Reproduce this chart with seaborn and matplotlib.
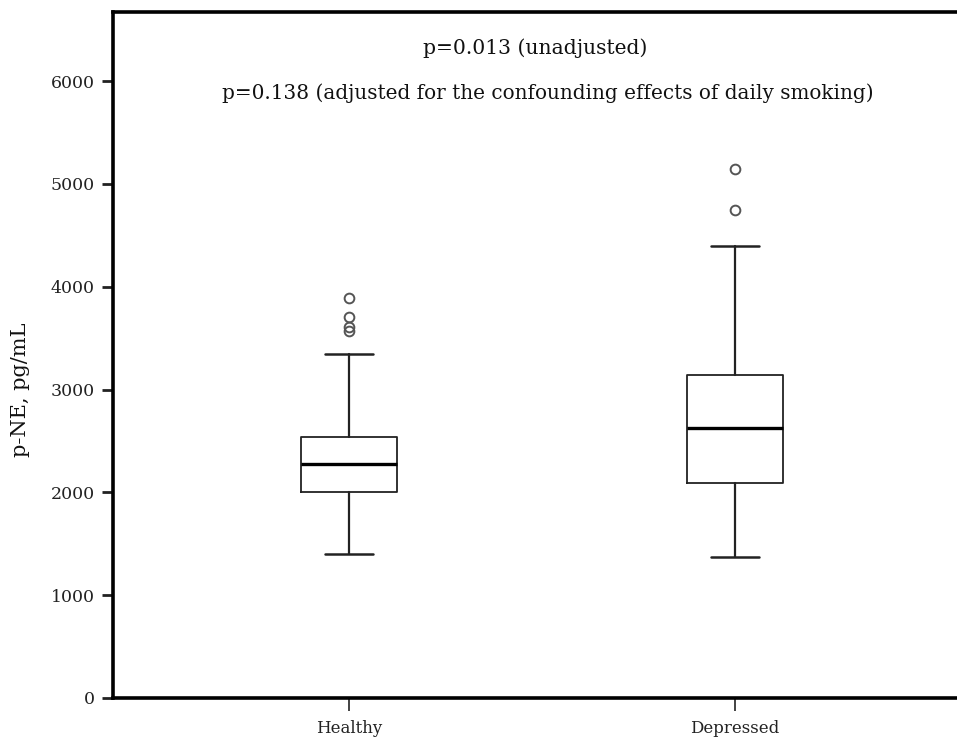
import matplotlib
matplotlib.use("Agg")
import matplotlib.pyplot as plt
import seaborn as sns

# ---- data (pg/mL) ----
groups = ["Healthy", "Depressed"]
whisker_low = [1400, 1375]
q1 = [2005, 2087]
median = [2273, 2631]
q3 = [2541, 3139]
whisker_high = [3346, 4400]
outliers = [[3894, 3709, 3612, 3570], [5146, 4744]]

y_ticks = [0, 1000, 2000, 3000, 4000, 5000, 6000]
p_lines = ["p=0.013 (unadjusted)",
           "p=0.138 (adjusted for the confounding effects of daily smoking)"]

sns.set_style("ticks")
plt.rcParams["font.family"] = ["DejaVu Serif", "Liberation Serif"]

fig = plt.figure(figsize=(9.57, 7.40), dpi=100)
ax = fig.add_axes([113 / 957, 42 / 740, (971 - 113) / 957, (698 - 12) / 740])

stats = []
for i, g in enumerate(groups):
    stats.append({
        "label": g,
        "whislo": whisker_low[i],
        "q1": q1[i],
        "med": median[i],
        "q3": q3[i],
        "whishi": whisker_high[i],
        "fliers": outliers[i],
    })

ax.bxp(stats, positions=range(len(groups)), widths=0.25, showfliers=True,
       boxprops=dict(color="#222222", linewidth=1.3),
       medianprops=dict(color="black", linewidth=2.4),
       whiskerprops=dict(color="#222222", linewidth=1.6),
       capprops=dict(color="#222222", linewidth=1.8),
       flierprops=dict(marker="o", markersize=7, markerfacecolor="none",
                       markeredgecolor="#555555", markeredgewidth=1.4),
       capwidths=0.125)

ax.set_xlim(-0.611, 1.611)
ax.set_ylim(0, 6673)
ax.set_yticks(y_ticks)
ax.set_yticklabels([str(t) for t in y_ticks])
ax.set_xticks(range(len(groups)))
ax.set_xticklabels(groups)

for s in ax.spines.values():
    s.set_linewidth(2.6)
    s.set_color("black")

ax.tick_params(axis="y", length=8, width=2, colors="#222222", labelsize=12.5, pad=5)
ax.tick_params(axis="x", length=9, width=1.2, colors="#222222", labelsize=12, pad=7)

ax.set_ylabel("p-NE, pg/mL", fontsize=15, color="#111111")
ax.yaxis.set_label_coords(-0.097, 0.45)
ax.set_xlabel("")

ax.text(0.482, 6323, p_lines[0], ha="center", va="center", fontsize=14.6, color="#111111")
ax.text(0.516, 5885, p_lines[1], ha="center", va="center", fontsize=14.4, color="#111111")

fig.savefig("out.png", dpi=100)
